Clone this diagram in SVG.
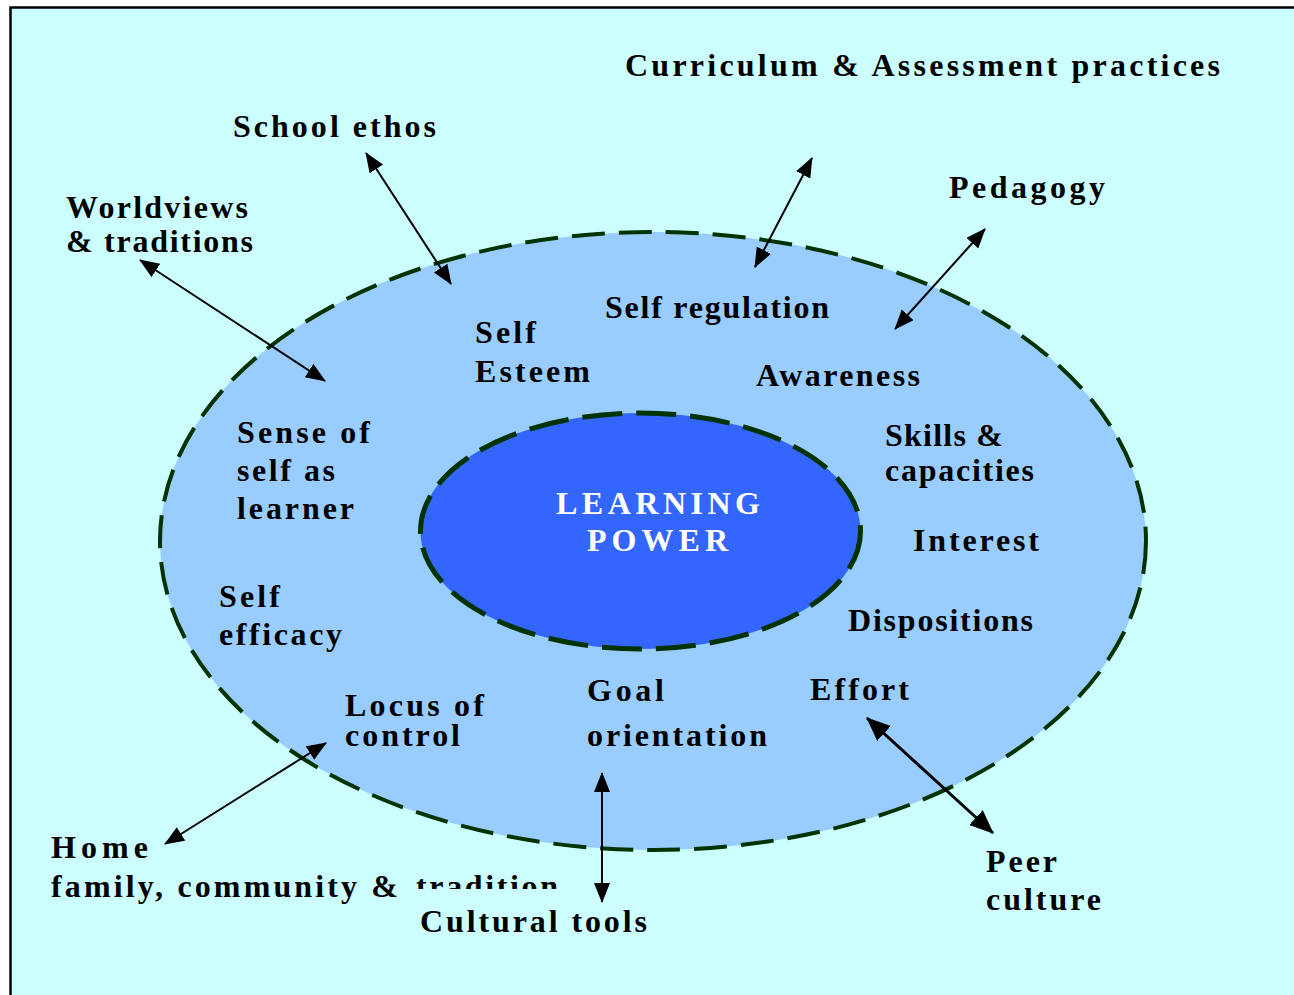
<svg xmlns="http://www.w3.org/2000/svg" width="1294" height="995" viewBox="0 0 1294 995">
  <style>
    .t { font-family: "Liberation Serif", "Times New Roman", serif; font-weight: bold; font-size: 32px; fill: #000; }
    .w { fill: #fff; }
    .arr { stroke: #000; stroke-width: 2; fill: none; marker-start: url(#ah); marker-end: url(#ah); }
    .arrB { stroke: #000; stroke-width: 3; fill: none; marker-start: url(#ahB); marker-end: url(#ahB); }
  </style>
  <defs>
    <marker id="ah" markerUnits="userSpaceOnUse" markerWidth="22" markerHeight="18" refX="19" refY="8" orient="auto-start-reverse" viewBox="0 0 22 18">
      <path d="M0,0 L20,8 L0,16 Z" fill="#000"/>
    </marker>
    <marker id="ahB" markerUnits="userSpaceOnUse" markerWidth="26" markerHeight="22" refX="23" refY="10" orient="auto-start-reverse" viewBox="0 0 26 22">
      <path d="M0,0 L24,10 L0,20 Z" fill="#000"/>
    </marker>
    <clipPath id="clipTrad">
      <rect x="0" y="0" width="1294" height="889"/>
    </clipPath>
  </defs>

  <rect x="0" y="0" width="1294" height="995" fill="#ffffff"/>
  <rect id="frame" x="10.5" y="7.5" width="1300" height="1000" fill="#CCFFFF" stroke="#000" stroke-width="2.5"/>

  <g id="outer-ring">
    <ellipse cx="653" cy="541" rx="493" ry="309" fill="#99CCFF" stroke="#003300" stroke-width="4" stroke-dasharray="33 14"/>
  </g>
  <g id="learning-power">
    <ellipse cx="640.5" cy="531" rx="220" ry="118" fill="#3366FF" stroke="#003300" stroke-width="5" stroke-dasharray="40 14"/>
    <text class="t w" x="556" y="514" textLength="204" lengthAdjust="spacing">LEARNING</text>
    <text class="t w" x="587" y="551" textLength="141" lengthAdjust="spacing">POWER</text>
  </g>

  <g id="connectors">
    <line class="arr" x1="366" y1="153" x2="451" y2="284"/>
    <line class="arr" x1="812" y1="158" x2="755" y2="267"/>
    <line class="arr" x1="985" y1="229" x2="895" y2="329"/>
    <line class="arr" x1="140" y1="260" x2="325" y2="381"/>
    <line class="arr" x1="326" y1="743" x2="165" y2="844"/>
    <line class="arr" x1="602" y1="773" x2="602" y2="902"/>
    <line class="arrB" x1="867" y1="718" x2="993" y2="833"/>
  </g>

  <g id="curriculum"><text class="t" x="625" y="76" textLength="595" lengthAdjust="spacing">Curriculum &amp; Assessment practices</text></g>
  <g id="school-ethos"><text class="t" x="233" y="137" textLength="203" lengthAdjust="spacing">School ethos</text></g>
  <g id="worldviews">
    <text class="t" x="66" y="218" textLength="182" lengthAdjust="spacing">Worldviews</text>
    <text class="t" x="66" y="252" textLength="187" lengthAdjust="spacing">&amp; traditions</text>
  </g>
  <g id="pedagogy"><text class="t" x="949" y="198" textLength="156" lengthAdjust="spacing">Pedagogy</text></g>
  <g id="self-regulation"><text class="t" x="605" y="318" textLength="224" lengthAdjust="spacing">Self regulation</text></g>
  <g id="self-esteem">
    <text class="t" x="475" y="343" textLength="61" lengthAdjust="spacing">Self</text>
    <text class="t" x="475" y="382" textLength="115" lengthAdjust="spacing">Esteem</text>
  </g>
  <g id="awareness"><text class="t" x="756" y="386" textLength="164" lengthAdjust="spacing">Awareness</text></g>
  <g id="sense-of-self">
    <text class="t" x="237" y="443" textLength="133" lengthAdjust="spacing">Sense of</text>
    <text class="t" x="237" y="481" textLength="98" lengthAdjust="spacing">self as</text>
    <text class="t" x="237" y="519" textLength="117" lengthAdjust="spacing">learner</text>
  </g>
  <g id="skills">
    <text class="t" x="885" y="446" textLength="118" lengthAdjust="spacing">Skills &amp;</text>
    <text class="t" x="885" y="481" textLength="149" lengthAdjust="spacing">capacities</text>
  </g>
  <g id="interest"><text class="t" x="913" y="551" textLength="126" lengthAdjust="spacing">Interest</text></g>
  <g id="dispositions"><text class="t" x="848" y="631" textLength="185" lengthAdjust="spacing">Dispositions</text></g>
  <g id="self-efficacy">
    <text class="t" x="219" y="607" textLength="61" lengthAdjust="spacing">Self</text>
    <text class="t" x="219" y="645" textLength="123" lengthAdjust="spacing">efficacy</text>
  </g>
  <g id="locus">
    <text class="t" x="345" y="716" textLength="139" lengthAdjust="spacing">Locus of</text>
    <text class="t" x="345" y="746" textLength="115" lengthAdjust="spacing">control</text>
  </g>
  <g id="goal">
    <text class="t" x="587" y="701" textLength="77" lengthAdjust="spacing">Goal</text>
    <text class="t" x="587" y="746" textLength="180" lengthAdjust="spacing">orientation</text>
  </g>
  <g id="effort"><text class="t" x="810" y="700" textLength="99" lengthAdjust="spacing">Effort</text></g>
  <g id="home">
    <text class="t" x="51" y="858" textLength="97" lengthAdjust="spacing">Home</text>
    <text class="t" x="51" y="897" textLength="347" lengthAdjust="spacing">family, community &amp;</text>
    <text class="t" x="416" y="897" textLength="142" lengthAdjust="spacing" clip-path="url(#clipTrad)">tradition</text>
  </g>
  <g id="cultural-tools"><text class="t" x="420" y="932" textLength="227" lengthAdjust="spacing">Cultural tools</text></g>
  <g id="peer-culture">
    <text class="t" x="986" y="872" textLength="71" lengthAdjust="spacing">Peer</text>
    <text class="t" x="986" y="910" textLength="115" lengthAdjust="spacing">culture</text>
  </g>
</svg>
